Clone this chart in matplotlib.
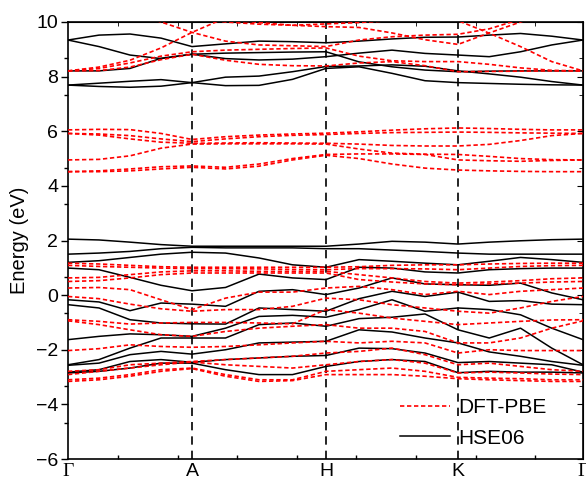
import matplotlib
matplotlib.use("Agg")
import matplotlib.pyplot as plt
import numpy as np

# ---------------- data ----------------
kpoint_labels = ["Γ", "A", "H", "K", "Γ"]
kpoint_pos = [0.0, 1.24, 2.58, 3.90, 5.15]
samples_per_segment = 4

# HSE06 bands (eV), 17 samples along Γ-A-H-K-Γ
hse_upper = [
    [9.34, 9.52, 9.56, 9.41, 9.10, 9.20, 9.30, 9.28, 9.24, 9.30, 9.38, 9.44, 9.45, 9.52, 9.58, 9.48, 9.34],
    [9.34, 9.10, 8.79, 8.66, 8.82, 8.66, 8.61, 8.64, 8.73, 8.86, 8.97, 8.85, 8.79, 8.73, 8.91, 9.16, 9.34],
    [8.21, 8.21, 8.30, 8.67, 8.82, 8.86, 8.88, 8.90, 8.91, 8.54, 8.36, 8.24, 8.18, 8.20, 8.21, 8.21, 8.21],
    [7.69, 7.76, 7.83, 7.89, 7.78, 7.98, 8.02, 8.18, 8.37, 8.39, 8.43, 8.38, 8.21, 8.10, 7.98, 7.82, 7.69],
    [7.69, 7.64, 7.61, 7.65, 7.78, 7.67, 7.68, 7.90, 8.30, 8.36, 8.12, 7.85, 7.78, 7.75, 7.72, 7.70, 7.69],
]
hse_lower = [
    [2.05, 2.02, 1.94, 1.85, 1.79, 1.79, 1.79, 1.79, 1.79, 1.87, 1.97, 1.94, 1.87, 1.94, 1.99, 2.03, 2.05],
    [1.50, 1.54, 1.60, 1.70, 1.75, 1.73, 1.73, 1.73, 1.70, 1.70, 1.65, 1.60, 1.54, 1.50, 1.50, 1.50, 1.50],
    [1.20, 1.26, 1.38, 1.50, 1.57, 1.54, 1.36, 1.11, 1.02, 1.30, 1.24, 1.17, 1.11, 1.24, 1.38, 1.30, 1.20],
    [0.99, 0.93, 0.65, 0.36, 0.16, 0.28, 0.77, 0.63, 0.57, 1.02, 0.99, 0.85, 0.81, 0.93, 0.97, 0.99, 0.99],
    [-0.17, -0.25, -0.57, -0.29, -0.33, -0.41, 0.14, 0.20, 0.02, 0.26, 0.63, 0.41, 0.38, 0.36, 0.44, 0.08, -0.17],
    [-0.35, -0.47, -0.90, -1.02, -1.05, -1.06, -0.47, -0.53, -0.59, -0.13, 0.14, -0.05, 0.11, -0.23, -0.20, -0.33, -0.35],
    [-1.63, -1.51, -1.42, -1.45, -1.51, -1.21, -0.78, -0.74, -0.81, -0.53, -0.17, -0.59, -0.47, -0.53, -0.72, -1.21, -1.63],
    [-2.55, -2.36, -1.94, -1.57, -1.57, -1.57, -1.08, -1.02, -1.14, -0.86, -0.81, -0.69, -1.27, -1.57, -1.21, -1.94, -2.55],
    [-2.57, -2.49, -2.18, -2.06, -2.16, -2.00, -1.75, -1.72, -1.69, -1.27, -1.35, -1.57, -1.75, -2.08, -2.24, -2.43, -2.57],
    [-2.82, -2.73, -2.43, -2.36, -2.46, -2.36, -2.30, -2.24, -2.21, -1.94, -1.96, -2.12, -2.47, -2.43, -2.49, -2.55, -2.82],
    [-2.85, -2.79, -2.67, -2.49, -2.49, -2.73, -2.91, -2.91, -2.61, -2.43, -2.36, -2.43, -2.84, -2.79, -2.82, -2.82, -2.85],
]

# DFT-PBE bands (eV)
pbe_upper = [
    [8.21, 8.35, 8.60, 9.05, 9.62, 10.15, 10.6, 10.9, 11.0, 10.9, 10.7, 10.5, 10.4, 10.5, 10.6, 10.8, 11.0],
    [10.8, 10.6, 10.35, 10.0, 9.62, 9.30, 9.16, 9.13, 9.10, 9.34, 9.46, 9.52, 9.55, 9.75, 10.1, 10.5, 10.8],
    [11.0, 10.8, 10.6, 10.4, 10.3, 10.1, 9.98, 9.88, 9.83, 9.80, 9.60, 9.35, 9.18, 9.60, 10.0, 10.4, 10.6],
    [10.9, 10.7, 10.5, 10.3, 10.15, 10.0, 9.92, 9.88, 9.93, 9.98, 10.05, 10.1, 10.05, 9.59, 9.10, 8.55, 8.21],
    [8.21, 8.30, 8.50, 8.75, 8.91, 8.97, 9.00, 9.03, 9.05, 8.75, 8.58, 8.55, 8.55, 8.45, 8.32, 8.23, 8.21],
    [8.21, 8.22, 8.35, 8.62, 8.82, 8.60, 8.45, 8.40, 8.39, 8.50, 8.55, 8.40, 8.18, 8.19, 8.20, 8.21, 8.21],
]
pbe_middle = [
    [6.05, 6.07, 6.06, 5.92, 5.70, 5.80, 5.86, 5.90, 5.93, 5.98, 6.04, 6.09, 6.12, 6.10, 6.07, 6.05, 6.05],
    [5.92, 5.90, 5.84, 5.72, 5.62, 5.72, 5.80, 5.85, 5.88, 5.92, 5.95, 5.96, 5.97, 5.96, 5.94, 5.93, 5.92],
    [5.92, 5.86, 5.72, 5.60, 5.56, 5.57, 5.58, 5.57, 5.56, 5.53, 5.48, 5.46, 5.46, 5.52, 5.66, 5.84, 5.92],
    [4.95, 4.97, 5.10, 5.38, 5.53, 5.54, 5.54, 5.54, 5.53, 5.35, 5.20, 5.16, 5.15, 5.08, 5.00, 4.96, 4.95],
    [4.52, 4.55, 4.62, 4.70, 4.73, 4.68, 4.80, 5.00, 5.15, 5.17, 5.17, 5.15, 4.95, 4.92, 4.90, 4.93, 4.95],
    [4.52, 4.52, 4.55, 4.62, 4.68, 4.62, 4.72, 4.95, 5.12, 5.00, 4.80, 4.65, 4.58, 4.55, 4.53, 4.52, 4.52],
]
pbe_lower = [
    [1.17, 1.14, 1.09, 1.04, 1.02, 1.02, 1.02, 1.02, 1.02, 1.04, 1.09, 1.11, 1.11, 1.14, 1.16, 1.17, 1.17],
    [1.09, 1.05, 1.02, 0.99, 0.97, 0.97, 0.96, 0.94, 0.93, 0.97, 0.97, 0.96, 0.93, 0.99, 1.05, 1.08, 1.09],
    [0.63, 0.65, 0.75, 0.85, 0.89, 0.89, 0.87, 0.87, 0.87, 0.75, 0.63, 0.50, 0.44, 0.48, 0.53, 0.60, 0.63],
    [0.50, 0.53, 0.63, 0.75, 0.81, 0.81, 0.81, 0.81, 0.81, 0.57, 0.48, 0.41, 0.38, 0.41, 0.44, 0.48, 0.50],
    [0.26, 0.28, 0.20, -0.17, -0.53, -0.11, 0.11, 0.11, 0.26, 0.32, 0.20, 0.02, 0.14, 0.02, 0.14, 0.20, 0.26],
    [-0.05, -0.13, -0.33, -0.50, -0.59, -0.53, -0.53, -0.41, -0.11, -0.17, -0.35, -0.47, -0.59, -0.66, -0.47, -0.23, -0.05],
    [-0.90, -0.96, -1.06, -1.02, -1.00, -1.00, -1.02, -1.05, -0.53, -0.66, -0.84, -0.96, -1.08, -1.02, -0.96, -0.91, -0.90],
    [-0.94, -1.08, -1.27, -1.45, -1.51, -1.33, -1.21, -1.14, -1.08, -1.21, -1.21, -1.33, -1.75, -1.75, -1.57, -1.21, -0.94],
    [-2.03, -1.96, -1.82, -1.88, -1.91, -1.88, -1.82, -1.75, -1.69, -1.75, -1.69, -1.75, -2.12, -2.00, -2.03, -2.03, -2.03],
    [-2.79, -2.73, -2.55, -2.49, -2.43, -2.36, -2.30, -2.24, -2.12, -2.06, -1.94, -2.18, -2.55, -2.49, -2.61, -2.73, -2.79],
    [-2.91, -2.79, -2.67, -2.55, -2.45, -2.55, -2.61, -2.67, -2.55, -2.43, -2.36, -2.49, -2.85, -2.82, -2.85, -2.89, -2.91],
    [-3.10, -3.04, -2.91, -2.73, -2.67, -2.91, -3.10, -3.10, -2.79, -2.73, -2.67, -2.79, -3.01, -3.04, -3.06, -3.10, -3.10],
    [-3.16, -3.10, -2.97, -2.79, -2.69, -2.97, -3.16, -3.13, -2.91, -2.91, -2.91, -2.97, -3.06, -3.10, -3.13, -3.16, -3.16],
]

y_major = [-6, -4, -2, 0, 2, 4, 6, 8, 10]

# ---------------- plot ----------------
plt.rcParams['font.family'] = ['Liberation Sans', 'DejaVu Sans']

# sample positions along the path
k = [kpoint_pos[0]]
for a, b in zip(kpoint_pos[:-1], kpoint_pos[1:]):
    k.extend(list(np.linspace(a, b, samples_per_segment + 1)[1:]))
k = np.array(k)

fig = plt.figure(figsize=(5.86, 4.79), dpi=100)
ax = fig.add_axes([68 / 586, 20 / 479, 515 / 586, 437 / 479])

hse_style = dict(color='black', lw=1.1, solid_joinstyle='round')
pbe_style = dict(color='#ff0000', lw=1.2, linestyle=(0, (2.6, 1.6)))

for i, band in enumerate(hse_upper + hse_lower):
    ax.plot(k, band, label='HSE06' if i == 0 else None, zorder=2, **hse_style)
for i, band in enumerate(pbe_upper + pbe_middle + pbe_lower):
    ax.plot(k, band, label='DFT-PBE' if i == 0 else None, zorder=3, **pbe_style)

for xp in kpoint_pos[1:-1]:
    ax.axvline(xp, color='black', lw=1.2, linestyle=(0, (5, 3.6)), zorder=1)

ax.set_xlim(kpoint_pos[0], kpoint_pos[-1])
ax.set_ylim(-6, 10)

# y ticks
ax.set_yticks(y_major)
ax.set_yticks(list(np.linspace(-6, 10, 13)), minor=True)
ax.tick_params(axis='y', which='major', direction='out', length=5, width=1, labelsize=14, pad=2)
ax.tick_params(axis='y', which='minor', direction='out', length=3, width=1)
ax.set_ylabel('Energy (eV)', fontsize=14.5, labelpad=5)

# x ticks
ax.set_xticks(kpoint_pos)
ax.set_xticklabels(kpoint_labels)
for lab in ax.get_xticklabels():
    if lab.get_text() == 'Γ':
        lab.set_fontfamily(['Liberation Serif', 'DejaVu Serif'])
ax.set_xticks([0.50 + 0.596 * i for i in range(8)], minor=True)
ax.tick_params(axis='x', which='major', length=0, labelsize=14, pad=3)
ax.tick_params(axis='x', which='minor', direction='in', length=3, width=1)

# right & top ticks
secy = ax.secondary_yaxis('right')
secy.set_yticks(y_major)
secy.set_yticks(list(np.linspace(-6, 10, 13)), minor=True)
secy.tick_params(which='both', direction='in', labelright=False)
secy.tick_params(which='major', length=4)
secy.tick_params(which='minor', length=3)
secx = ax.secondary_xaxis('top')
secx.set_xticks([])
secx.set_xticks([0.50 + 0.596 * i for i in range(8)], minor=True)
secx.tick_params(which='minor', direction='in', length=3, labeltop=False)

for sp in ax.spines.values():
    sp.set_linewidth(1.2)

handles, labels = ax.get_legend_handles_labels()
order = [labels.index('DFT-PBE'), labels.index('HSE06')]
ax.legend([handles[i] for i in order], [labels[i] for i in order],
          loc='lower right', bbox_to_anchor=(0.966, -0.017), frameon=False,
          fontsize=15, handlelength=2.4, handletextpad=0.4, labelspacing=0.55)

fig.savefig('out.png', dpi=100)
